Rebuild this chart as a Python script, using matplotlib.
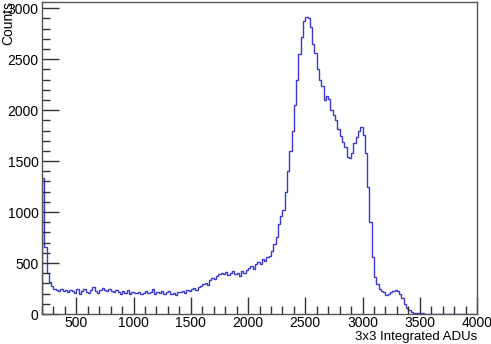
import numpy as np
import matplotlib
matplotlib.use("Agg")
import matplotlib.pyplot as plt
from matplotlib.ticker import MultipleLocator

plt.rcParams['font.family'] = ['Liberation Sans', 'DejaVu Sans']

# histogram: 20 ADU bins from 200 to 4000
bin_lo, bin_hi, bin_w = 200, 4000, 20
counts = [
    1330, 660, 400, 310, 270, 250, 240, 230, 250, 225,   # 200-400
    235, 215, 240, 225, 210, 245, 200, 230, 250, 215,    # 400-600
    205, 240, 260, 225, 210, 235, 255, 240, 225, 250,    # 600-800
    230, 215, 240, 220, 200, 225, 210, 235, 200, 215,    # 800-1000
    210, 205, 215, 200, 210, 225, 205, 215, 245, 200,    # 1000-1200
    215, 205, 225, 195, 215, 230, 200, 210, 190, 220,    # 1200-1400
    215, 230, 205, 240, 225, 245, 255, 235, 260, 275,    # 1400-1600
    290, 305, 285, 330, 350, 340, 370, 390, 405, 395,    # 1600-1800
    410, 385, 400, 420, 390, 405, 375, 420, 400, 435,    # 1800-2000
    455, 470, 440, 490, 510, 495, 540, 520, 555, 565,    # 2000-2200
    620, 690, 760, 880, 960, 1020, 1200, 1400, 1600, 1800,   # 2200-2400
    2050, 2300, 2550, 2720, 2870, 2915, 2900, 2820, 2650, 2560,  # 2400-2600
    2400, 2300, 2240, 2100, 2140, 2110, 2000, 1950, 1900, 1810,  # 2600-2800
    1750, 1690, 1640, 1540, 1530, 1580, 1680, 1740, 1800, 1835,  # 2800-3000
    1760, 1580, 1250, 900, 560, 360, 290, 250, 230, 215,     # 3000-3200
    190, 200, 215, 225, 240, 230, 200, 160, 100, 60,         # 3200-3400
    35, 20, 12, 9, 7, 6, 5, 4, 3, 3,                         # 3400-3600
    3, 2, 2, 2, 1, 2, 1, 1, 1, 1,                            # 3600-3800
    1, 1, 0, 1, 0, 0, 1, 0, 0, 0,                            # 3800-4000
]
edges = np.arange(bin_lo, bin_hi + bin_w, bin_w)

fig = plt.figure(figsize=(4.91, 3.44), dpi=100)
ax = fig.add_axes([42 / 491, 30 / 344, 435 / 491, 312 / 344])

ax.stairs(counts, edges, color='#3a3ac8', linewidth=1.0)

ax.set_xlim(bin_lo, bin_hi)
ax.set_ylim(0, max(counts) * 1.05)

ax.xaxis.set_major_locator(MultipleLocator(500))
ax.xaxis.set_minor_locator(MultipleLocator(100))
ax.yaxis.set_major_locator(MultipleLocator(500))
ax.yaxis.set_minor_locator(MultipleLocator(100))
ax.tick_params(which='both', direction='in', top=False, right=False,
               labelsize=10, color='#333333')
ax.tick_params(axis='x', pad=1.5)
ax.tick_params(axis='y', pad=2.5)
ax.tick_params(which='major', length=12, width=1)
ax.tick_params(which='minor', length=6, width=1)
for s in ax.spines.values():
    s.set_color('#555555')
    s.set_linewidth(1)

fig.text(0.016, 0.998, 'Counts', rotation=90, ha='center', va='top', fontsize=10)
fig.text(477 / 491, 0.004, '3x3 Integrated ADUs', ha='right', va='bottom', fontsize=9.5)

fig.savefig('out.png', dpi=100)
